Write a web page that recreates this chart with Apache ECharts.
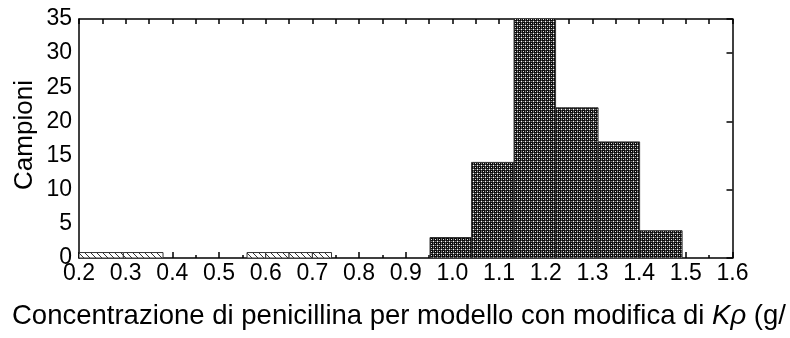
<!DOCTYPE html>
<html>
<head>
<meta charset="utf-8">
<script src="https://cdn.jsdelivr.net/npm/echarts@6/dist/echarts.min.js"></script>
<style>
html,body{margin:0;padding:0;background:#fff;}
#c{width:790px;height:338px;}
</style>
</head>
<body>
<div id="c"></div>
<script>
// ---- data ----
const mainBinStart = [0.952, 1.041, 1.132, 1.221, 1.312, 1.401];
const mainBinEnd   = [1.041, 1.132, 1.221, 1.312, 1.401, 1.492];
const mainCounts   = [3, 14, 38, 22, 17, 4];

const lowBinStart = [0.2, 0.295, 0.56, 0.6, 0.65, 0.7];
const lowBinEnd   = [0.295, 0.38, 0.6, 0.65, 0.7, 0.741];
const lowCounts   = [0.8, 0.8, 0.8, 0.8, 0.8, 0.8];

const xTicks = ['0.2','0.3','0.4','0.5','0.6','0.7','0.8','0.9','1.0','1.1','1.2','1.3','1.4','1.5','1.6'];
const yTicks = ['0','5','10','15','20','25','30','35'];

const xTitle = 'Concentrazione di penicillina per modello con modifica di ';
const yTitle = 'Campioni';

// ---- patterns ----
function crossPattern(){
  const c = document.createElement('canvas'); c.width = 4; c.height = 4;
  const g = c.getContext('2d');
  g.fillStyle = '#0a0a0a'; g.fillRect(0,0,4,4);
  g.fillStyle = '#ffffff'; g.fillRect(1,1,1,1);
  g.fillStyle = '#e0e0e0'; g.fillRect(3,3,1,1);
  g.fillStyle = '#7a7a7a'; g.fillRect(1,3,1,1); g.fillRect(3,1,1,1);
  g.fillStyle = '#444'; g.fillRect(0,1,1,1); g.fillRect(2,1,1,1); g.fillRect(1,0,1,1); g.fillRect(1,2,1,1);
  return c;
}
function hatchPattern(){
  const c = document.createElement('canvas'); c.width = 6; c.height = 6;
  const g = c.getContext('2d');
  g.fillStyle = '#fff'; g.fillRect(0,0,6,6);
  g.strokeStyle = '#333'; g.lineWidth = 1;
  g.beginPath(); g.moveTo(-1,-1); g.lineTo(7,7); g.stroke();
  return c;
}
const crossImg = crossPattern();
const hatchImg = hatchPattern();

const FONT = '"Liberation Sans", Arial, sans-serif';

function mkData(s, e, v){ return s.map((x,i)=>[x, e[i], v[i]]); }

function renderBar(fill){
  return function(params, api){
    const p0 = api.coord([api.value(0), 0]);
    const p1 = api.coord([api.value(1), api.value(2)]);
    return {
      type:'rect',
      shape:{x:p0[0], y:p1[1], width:p1[0]-p0[0], height:p0[1]-p1[1]},
      style:{fill:fill, stroke:'#333', lineWidth:1}
    };
  };
}

const chart = echarts.init(document.getElementById('c'), null, {renderer:'canvas'});
chart.setOption({
  animation:false,
  backgroundColor:'#fff',
  grid:{left:79, right:57.5, top:19, bottom:80, show:false},
  xAxis:[{
    type:'value', min:0.2, max:1.6, interval:0.1, position:'bottom',
    axisLine:{show:true, onZero:false, lineStyle:{color:'#000', width:1.5}},
    axisTick:{show:true, inside:true, length:6, lineStyle:{color:'#000', width:1.5}},
    minorTick:{show:true, splitNumber:2, length:3, lineStyle:{color:'#000', width:1.5}},
    splitLine:{show:false},
    axisLabel:{fontFamily:FONT, fontSize:23, color:'#000', margin:4,
      formatter:(v)=>{ const i = Math.round((v-0.2)/0.1); return xTicks[i] !== undefined ? xTicks[i] : ''; }}
  },{
    type:'value', min:0.2, max:1.6, interval:0.05, position:'top',
    axisLine:{show:true, onZero:false, lineStyle:{color:'#000', width:1.5}},
    axisTick:{show:true, inside:true, length:5, lineStyle:{color:'#000', width:1.5}},
    axisLabel:{show:false}, splitLine:{show:false}
  }],
  yAxis:[{
    type:'value', min:0, max:35, interval:5, position:'left',
    axisLine:{show:true, onZero:false, lineStyle:{color:'#000', width:1.5}},
    axisTick:{show:false},
    splitLine:{show:false},
    axisLabel:{fontFamily:FONT, fontSize:23, color:'#000', margin:7,
      formatter:(v)=>{ const i = Math.round(v/5); return yTicks[i] !== undefined ? yTicks[i] : ''; }}
  },{
    type:'value', min:0, max:35, interval:10, position:'right',
    axisLine:{show:true, onZero:false, lineStyle:{color:'#000', width:1.5}},
    axisTick:{show:true, inside:true, length:6, lineStyle:{color:'#000', width:1.5}},
    axisLabel:{show:false}, splitLine:{show:false}
  }],
  graphic:[{
    type:'text', left:12, top:302,
    style:{
      text:'{a|' + xTitle + '}{k|K}{r|ρ}{a| (g/}',
      rich:{
        a:{fontFamily:FONT, fontSize:27.5, fill:'#000', fontStyle:'normal'},
        k:{fontFamily:FONT, fontSize:27.5, fill:'#000', fontStyle:'italic'},
        r:{fontFamily:FONT, fontSize:27.5, fill:'#000', fontStyle:'italic'}
      }
    }
  },{
    type:'text', x:25, y:135, rotation:Math.PI/2,
    style:{text:yTitle, fontFamily:FONT, fontSize:26, fill:'#000', align:'center', verticalAlign:'middle'}
  }],
  series:[{
    type:'custom', xAxisIndex:0, yAxisIndex:0, clip:true,
    renderItem:renderBar({image:hatchImg, repeat:'repeat'}),
    data:mkData(lowBinStart, lowBinEnd, lowCounts), z:2
  },{
    type:'custom', xAxisIndex:0, yAxisIndex:0, clip:true,
    renderItem:renderBar({image:crossImg, repeat:'repeat'}),
    data:mkData(mainBinStart, mainBinEnd, mainCounts), z:2
  }]
});
</script>
</body>
</html>
